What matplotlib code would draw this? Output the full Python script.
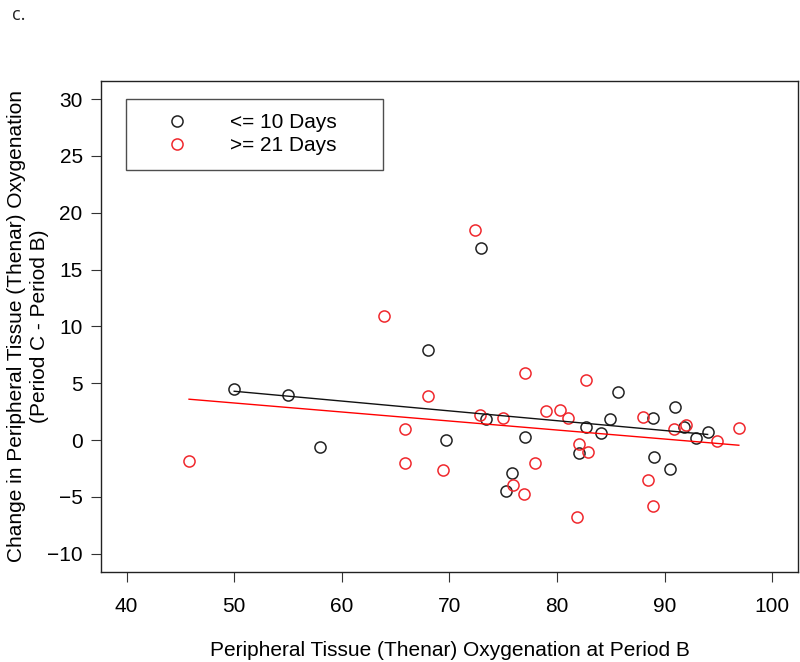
import numpy as np
import matplotlib
matplotlib.use('Agg')
import matplotlib.pyplot as plt

plt.rcParams['font.family'] = ['Liberation Sans', 'DejaVu Sans']

# <= 10 days group
short_x = [50.0, 55.0, 58.0, 68.0, 69.7, 72.9, 73.4, 75.3, 75.8, 77.0, 82.0,
           82.7, 84.1, 84.9, 85.7, 88.9, 89.0, 90.5, 91.0, 91.85, 92.9, 94.0]
short_y = [4.47, 4.0, -0.6, 7.92, -0.03, 16.87, 1.82, -4.47, -2.87, 0.29, -1.11,
           1.17, 0.61, 1.87, 4.21, 1.93, -1.49, -2.57, 2.95, 1.14, 0.18, 0.70]

# >= 21 days group
long_x = [45.8, 63.9, 65.9, 65.9, 68.0, 69.4, 72.4, 72.8, 75.0, 75.95, 76.9,
          77.0, 78.0, 79.0, 80.3, 81.0, 81.9, 82.0, 82.7, 82.9, 88.0, 88.5,
          88.9, 90.9, 92.0, 94.9, 96.9]
long_y = [-1.85, 10.9, 0.96, -2.0, 3.89, -2.66, 18.48, 2.19, 1.99, -3.97, -4.71,
          5.88, -2.02, 2.57, 2.69, 1.93, -6.73, -0.38, 5.26, -1.05, 2.05, -3.54,
          -5.76, 0.96, 1.29, -0.06, 1.03]

# fitted lines (endpoints)
short_fit_x = [50.0, 94.0]
short_fit_y = [4.3, 0.5]
long_fit_x = [45.8, 96.9]
long_fit_y = [3.6, -0.45]

xticks = [40, 50, 60, 70, 80, 90, 100]
yticks = [-10, -5, 0, 5, 10, 15, 20, 25, 30]

fig = plt.figure(figsize=(8, 6.62), dpi=100)
ax = fig.add_axes([0.126, 0.136, 0.8715, 0.7417])

ax.plot(short_x, short_y, 'o', mfc='none', mec='#222222', ms=8, mew=1.1,
        label='<= 10 Days')
ax.plot(long_x, long_y, 'o', mfc='none', mec='#f0282d', ms=8, mew=1.1,
        label='>= 21 Days')
ax.plot(short_fit_x, short_fit_y, color='#111111', lw=1)
ax.plot(long_fit_x, long_fit_y, color='red', lw=1)

ax.set_xlim(37.6, 102.4)
ax.set_ylim(-11.6, 31.6)
ax.set_xticks(xticks)
ax.set_yticks(yticks)
ax.tick_params(axis='both', labelsize=15, length=7, width=0.8, color='#333333')
ax.tick_params(axis='x', pad=11)
ax.tick_params(axis='y', pad=6)
for s in ax.spines.values():
    s.set_linewidth(1)
    s.set_color('#222222')

leg = ax.legend(loc='upper left', bbox_to_anchor=(0.0359, 0.963, 0.369, 0.0),
                mode='expand', fontsize=15, frameon=True, fancybox=False,
                edgecolor='#222222', borderpad=0.68, handlelength=3.6,
                handletextpad=0.7, labelspacing=0.2, borderaxespad=0)
leg.get_frame().set_linewidth(1)

fig.text(0.562, 1 - 650 / 662, 'Peripheral Tissue (Thenar) Oxygenation at Period B',
         ha='center', va='center', fontsize=15)
fig.text(28 / 800, 1 - 326 / 662,
         'Change in Peripheral Tissue (Thenar) Oxygenation\n(Period C - Period B)',
         ha='center', va='center', rotation=90, multialignment='center',
         fontsize=15, linespacing=1.25)
fig.text(12 / 800, 1 - 15 / 662, 'c.', ha='left', va='center', fontsize=13,
         family=['Open Sans', 'DejaVu Sans'], color='#222222')

fig.savefig('out.png', dpi=100)
